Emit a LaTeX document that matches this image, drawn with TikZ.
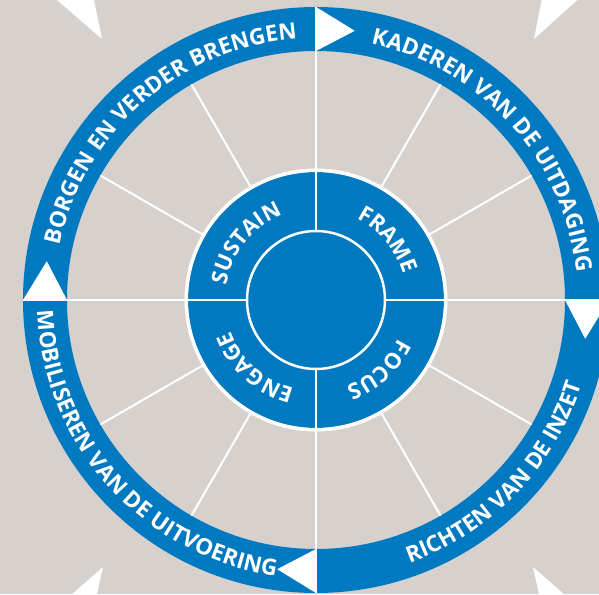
\documentclass[tikz,border=0pt]{standalone}
\usepackage{fontspec}
\setmainfont{Open Sans}
\usetikzlibrary{decorations.text}
\definecolor{ringblue}{RGB}{0,121,193}
\definecolor{bggray}{RGB}{214,209,205}
\newcommand\outfnt{\fontsize{22.5}{22.5}\selectfont\bfseries}
\newcommand\infnt{\fontsize{22}{22}\selectfont\bfseries}
\tikzset{
  ringtext/.style={decorate, decoration={text along path, text align=center, text color=white, text={#1}}},
  spoke/.style={draw=white, line width=2pt},
  cornerarrow/.style={fill=white, rounded corners=1pt},
}
\begin{document}
\begin{tikzpicture}[x=1pt,y=1pt]
\useasboundingbox (-316,-294) rectangle (283,300);
\clip (-316,-294) rectangle (283,300);
\fill[bggray] (-316,-294) rectangle (283,300);
% corner arrows
\path[cornerarrow] (-214,261) -- (-270.5,310) -- (-224,310) -- cycle;
\path[cornerarrow] (218,261) -- (227.6,310) -- (272.5,310) -- cycle;
\path[cornerarrow] (-213,-267) -- (-262,-310) -- (-222.5,-310) -- cycle;
\path[cornerarrow] (217,-267) -- (226.5,-310) -- (266,-310) -- cycle;
% outer ring
\fill[ringblue, even odd rule] (0,0) circle[radius=293] (0,0) circle[radius=249];
% spokes
\foreach \a in {30,60,120,150,210,240,300,330} \path[spoke] (\a:130) -- (\a:249);
% inner disk
\fill[ringblue] (0,0) circle[radius=128];
\draw[white, line width=3.5pt] (0,0) circle[radius=129.7];
\draw[white, line width=2.5pt] (0,0) circle[radius=69];
\foreach \a in {0,90,180,270} \path[spoke] (\a:69) -- (\a:293);
% direction triangles
\foreach \a in {0,90,180,270} \fill[white] (\a:293) -- (\a-8.2:272) -- (\a:249) -- cycle;
% outer texts
\path[ringtext={|\outfnt|BORGEN EN VERDER BRENGEN}] (191:262) arc[start angle=191, end angle=71, radius=262];
\path[ringtext={|\outfnt|KADEREN VAN DE UITDAGING}] (102:262) arc[start angle=102, end angle=-18, radius=262];
\path[ringtext={|\outfnt|MOBILISEREN VAN DE UITVOERING}] (162:279) arc[start angle=162, end angle=282, radius=279];
\path[ringtext={|\outfnt|RICHTEN VAN DE INZET}] (256:279) arc[start angle=256, end angle=376, radius=279];
% inner texts
\path[ringtext={|\infnt|SUSTAIN}] (186:91) arc[start angle=186, end angle=96, radius=91];
\path[ringtext={|\infnt|FRAME}] (85:91) arc[start angle=85, end angle=-5, radius=91];
\path[ringtext={|\infnt|FOCUS}] (357:91) arc[start angle=357, end angle=267, radius=91];
\path[ringtext={|\infnt|ENGAGE}] (273:91) arc[start angle=273, end angle=183, radius=91];
\end{tikzpicture}
\end{document}
